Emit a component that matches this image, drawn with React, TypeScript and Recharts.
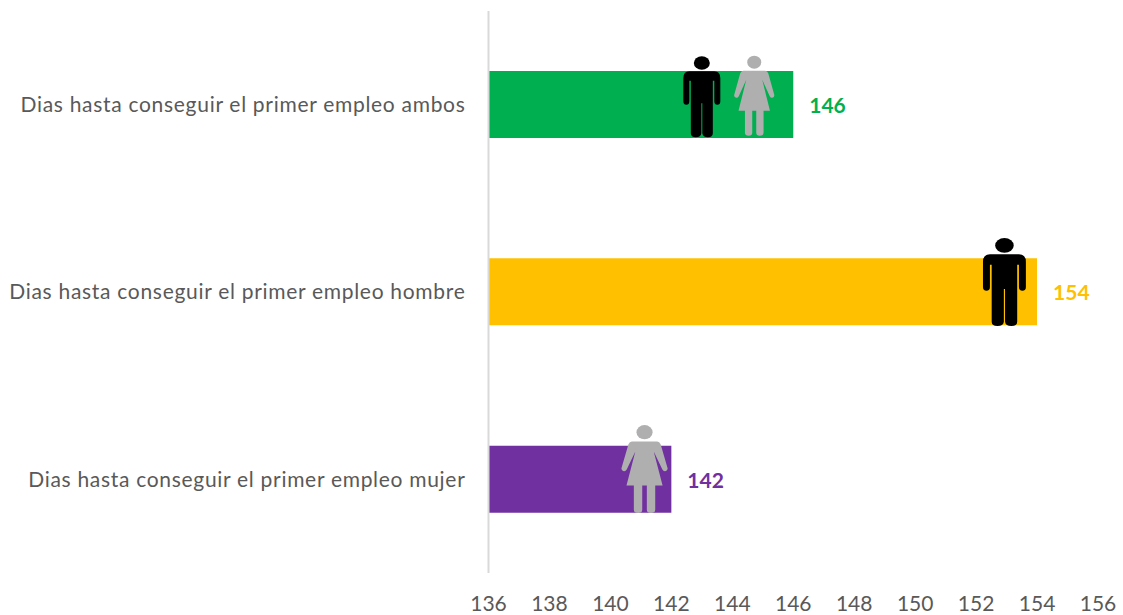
import { BarChart, Bar, Cell, XAxis, YAxis, LabelList, ReferenceDot } from 'recharts';

const categories = [
  'Dias hasta conseguir el primer empleo ambos',
  'Dias hasta conseguir el primer empleo hombre',
  'Dias hasta conseguir el primer empleo mujer',
];
const days = [146, 154, 142];
const barColors = ['#00B050', '#FFC000', '#7030A0'];
const xTicks = [136, 138, 140, 142, 144, 146, 148, 150, 152, 154, 156];

// pictograms sitting on the bars: category index, value they are centred on, kind
const iconRows = [0, 0, 1, 2];
const iconValues = [143, 144.72, 152.93, 141.12];
const iconKinds = ['man', 'woman', 'man', 'woman'];

// pictogram drawing: stretch and how far the feet sit below the bar centre
const iconScaleX = [1, 1, 1.16, 1.15];
const iconScaleY = [1, 1, 1.086, 1.1];
const iconDrop = [32.5, 31, 34, 33.7];

const data = categories.map((name, i) => ({ name, days: days[i] }));

const MAN_PATH =
  'M6 15H31Q37 15 37 22V45Q37 48.5 34 48.5Q31 48.5 31 45V24.5H29.5V77Q29.5 81 24.5 81Q19.5 81 19 77V47H18V77Q17.5 81 12.5 81Q7.5 81 7.5 77V24.5H6V45Q6 48.5 3 48.5Q0 48.5 0 45V22Q0 15 6 15Z';
const WOMAN_PATH =
  'M9 15H31Q33 15 34 17.5L40 39Q40.5 41.5 38 42Q36.5 42.3 35.5 40.5L28 24L35.7 55H29.3V77Q29.3 80 25.5 80Q22 80 22 77V55H18V77Q18 80 14.5 80Q10.7 80 10.7 77V55H4.3L12 24L4.5 40.5Q3.5 42.3 2 42Q-0.5 41.5 0 39L6 17.5Q7 15 9 15Z';

function Person({ cx, cy, kind, sx, sy, drop }: any) {
  const w = kind === 'man' ? 37 : 40;
  const h = kind === 'man' ? 81 : 80;
  const color = kind === 'man' ? '#000000' : '#AFAFAF';
  return (
    <g transform={`translate(${cx - (w * sx) / 2},${cy + drop - h * sy}) scale(${sx},${sy})`}>
      {kind === 'man' ? (
        <ellipse cx={18.5} cy={6.8} rx={8} ry={6.8} fill={color} />
      ) : (
        <ellipse cx={20} cy={6.5} rx={7} ry={6.5} fill={color} />
      )}
      <path d={kind === 'man' ? MAN_PATH : WOMAN_PATH} fill={color} />
    </g>
  );
}

function ValueLabel({ x, y, width, height, value, index }: any) {
  return (
    <text
      x={x + width + 16}
      y={y + height / 2}
      dominantBaseline="central"
      fill={barColors[index]}
      fontSize={21}
      fontWeight={700}
    >
      {value}
    </text>
  );
}

export default function App() {
  return (
    <div style={{ position: 'absolute', left: 0, top: 0, width: 1123, height: 615, background: '#fff', fontFamily: 'Lato, sans-serif' }}>
      <BarChart
        width={1123}
        height={615}
        data={data}
        layout="vertical"
        barCategoryGap={0}
        margin={{ top: 11, right: 25, bottom: 0, left: 0 }}
      >
        <XAxis
          type="number"
          domain={[136, 156]}
          ticks={xTicks}
          axisLine={false}
          tickLine={false}
          height={42}
          tickMargin={17}
          interval={0}
          tick={{ fill: '#595959', fontSize: 21 }}
        />
        <YAxis
          type="category"
          dataKey="name"
          width={488.5}
          interval={0}
          axisLine={{ stroke: '#D9D9D9', strokeWidth: 2 }}
          tickLine={false}
          tickMargin={17}
          tick={{ fill: '#595959', fontSize: 21, letterSpacing: 0.7 }}
        />
        <Bar dataKey="days" barSize={67} isAnimationActive={false}>
          {data.map((d, i) => (
            <Cell key={d.name} fill={barColors[i]} />
          ))}
          <LabelList dataKey="days" content={<ValueLabel />} />
        </Bar>
        {iconRows.map((row, i) => (
          <ReferenceDot
            key={i}
            x={iconValues[i]}
            y={categories[row]}
            ifOverflow="visible"
            shape={(p: any) => (
              <Person {...p} kind={iconKinds[i]} sx={iconScaleX[i]} sy={iconScaleY[i]} drop={iconDrop[i]} />
            )}
          />
        ))}
      </BarChart>
    </div>
  );
}
